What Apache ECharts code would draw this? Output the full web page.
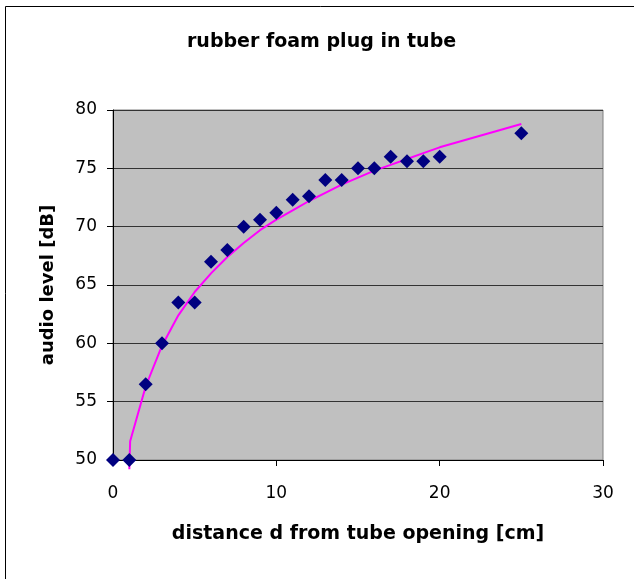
<!DOCTYPE html>
<html>
<head>
<meta charset="utf-8">
<script src="https://cdn.jsdelivr.net/npm/echarts@6/dist/echarts.min.js"></script>
<style>
html,body{margin:0;padding:0;background:#fff;}
#chart{width:634px;height:579px;}
</style>
</head>
<body>
<div id="chart"></div>
<script>
// measured data
const distance = [0, 1, 2, 3, 4, 5, 6, 7, 8, 9, 10, 11, 12, 13, 14, 15, 16, 17, 18, 19, 20, 25];
const audioLevel = [50, 50, 56.5, 60, 63.5, 63.5, 67, 68, 70, 70.6, 71.2, 72.3, 72.6, 74, 74, 75, 75, 76, 75.6, 75.6, 76, 78];
// trend line
const trendX = [1, 1.05, 2, 3, 4, 5, 6, 7, 8, 9, 10, 11, 12, 13, 14, 15, 16, 17, 18, 19, 20, 25];
const trendY = [49.2, 51.6, 56.3, 59.8, 62.4, 64.4, 66.0, 67.4, 68.6, 69.7, 70.6, 71.4, 72.2, 72.9, 73.6, 74.2, 74.8, 75.3, 75.8, 76.3, 76.8, 78.8];
const xTicks = [0, 10, 20, 30];
const yTicks = [50, 55, 60, 65, 70, 75, 80];
const titleText = 'rubber foam plug in tube';
const xName = 'distance d from tube opening [cm]';
const yName = 'audio level [dB]';

const chart = echarts.init(document.getElementById('chart'), null, {renderer: 'canvas'});
const boldFont = 'DejaVu Sans';
chart.setOption({
  animation: false,
  backgroundColor: '#fff',
  graphic: [{
    type: 'rect', silent: true, z: 0,
    shape: {x: 5.5, y: 6.5, width: 700, height: 700},
    style: {fill: 'none', stroke: '#000', lineWidth: 1}
  }],
  title: {
    text: titleText,
    left: 187, top: 33, padding: 0,
    textStyle: {fontFamily: boldFont, fontWeight: 'bold', fontSize: 19, color: '#000'}
  },
  grid: {
    left: 113, top: 110, width: 490, height: 350,
    show: true, backgroundColor: '#C0C0C0', borderColor: '#808080', borderWidth: 1
  },
  xAxis: {
    type: 'value', min: xTicks[0], max: xTicks[xTicks.length - 1], interval: 10,
    name: xName, nameLocation: 'middle', nameGap: 65,
    nameTextStyle: {fontFamily: boldFont, fontWeight: 'bold', fontSize: 19, color: '#000'},
    axisLine: {show: true, onZero: false, lineStyle: {color: '#000', width: 1}},
    axisTick: {show: true, inside: false, length: 6, lineStyle: {color: '#000'}},
    axisLabel: {margin: 25, fontFamily: 'DejaVu Sans', fontSize: 17, color: '#000'},
    splitLine: {show: false}
  },
  yAxis: {
    type: 'value', min: yTicks[0], max: yTicks[yTicks.length - 1], interval: 5,
    name: yName, nameLocation: 'middle', nameGap: 56, nameRotate: 90,
    nameTextStyle: {fontFamily: boldFont, fontWeight: 'bold', fontSize: 18, color: '#000'},
    axisLine: {show: true, onZero: false, lineStyle: {color: '#000', width: 1}},
    axisTick: {show: true, inside: false, length: 6, lineStyle: {color: '#000'}},
    axisLabel: {margin: 16, fontFamily: 'DejaVu Sans', fontSize: 17, color: '#000'},
    splitLine: {show: true, lineStyle: {color: '#333', width: 1}}
  },
  series: [
    {
      type: 'line',
      data: trendX.map((x, i) => [x, trendY[i]]),
      showSymbol: false, symbol: 'none',
      clip: false,
      lineStyle: {color: '#FF00FF', width: 2},
      z: 2
    },
    {
      type: 'scatter',
      data: distance.map((x, i) => [x, audioLevel[i]]),
      symbol: 'diamond', symbolSize: 14,
      itemStyle: {color: '#000080', opacity: 1},
      clip: false,
      z: 3
    }
  ]
});
</script>
</body>
</html>
